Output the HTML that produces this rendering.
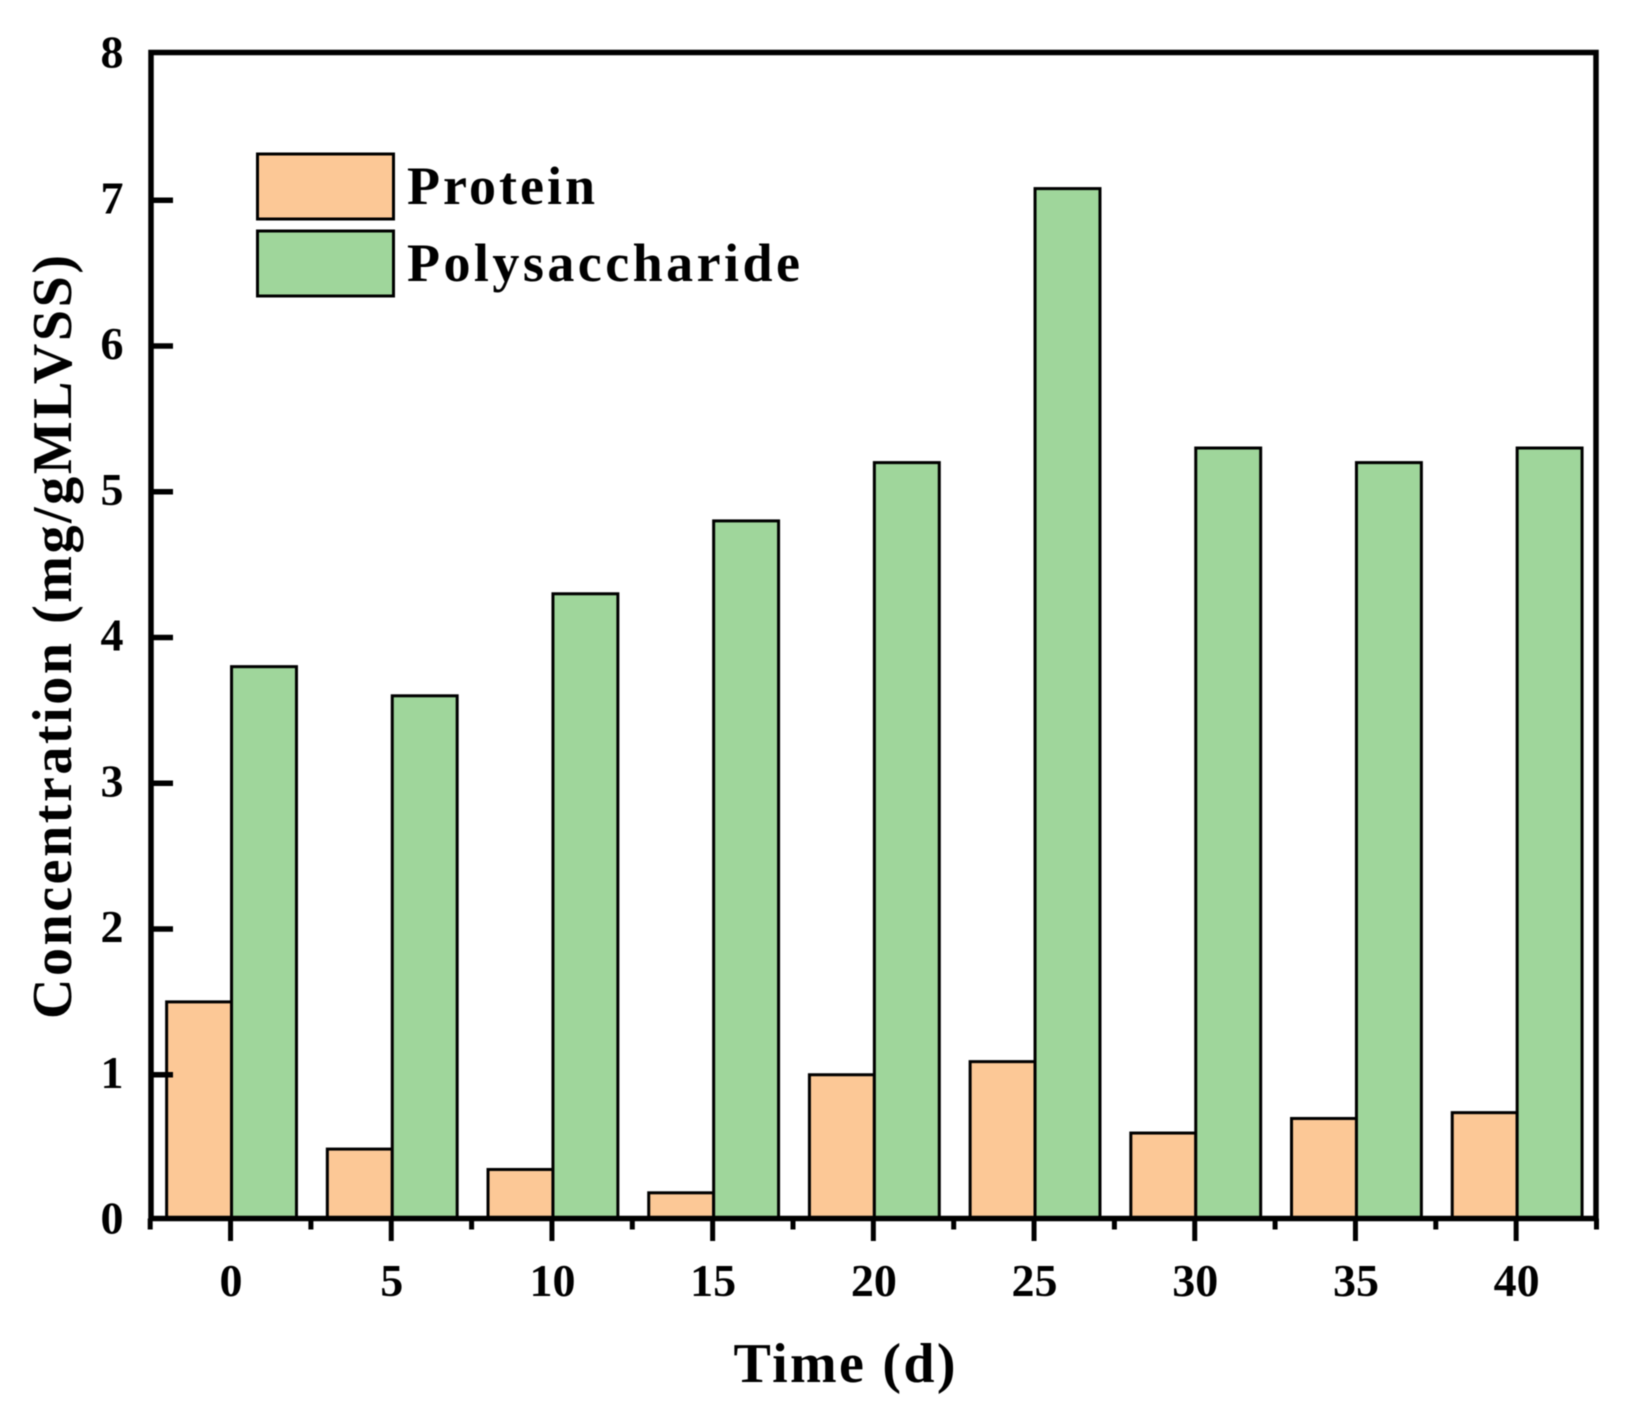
<!DOCTYPE html>
<html>
<head>
<meta charset="utf-8">
<style>
html,body{margin:0;padding:0;background:#fff;width:1630px;height:1405px;overflow:hidden}
svg{display:block;filter:blur(0.6px)}
text{font-family:"Liberation Serif",serif;font-weight:bold;fill:#000}
</style>
</head>
<body>
<svg id="chart" width="1630" height="1405" viewBox="0 0 1630 1405" xmlns="http://www.w3.org/2000/svg"></svg>
<script>
const categories = [0, 5, 10, 15, 20, 25, 30, 35, 40];
const proteinValues = [1.5, 0.49, 0.35, 0.19, 1.0, 1.09, 0.6, 0.7, 0.74];
const polysaccharideValues = [3.8, 3.6, 4.3, 4.8, 5.2, 7.08, 5.3, 5.2, 5.3];
const yTickLabels = [0, 1, 2, 3, 4, 5, 6, 7, 8];
const xMinorTicks = [-2.5, 2.5, 7.5, 12.5, 17.5, 22.5, 27.5, 32.5, 37.5, 42.5];

const svg = document.getElementById('chart');
const NS = 'http://www.w3.org/2000/svg';
const plot = {left: 151, right: 1599, top: 52.5, bottom: 1218.5};
const xDomain = [-2.5, 42.5];
const yDomain = [0, 8];
const xPos = v => 150.2 + (v - xDomain[0]) / (xDomain[1] - xDomain[0]) * 1446.3;
const yPos = v => plot.bottom + 2 - (v - yDomain[0]) / (yDomain[1] - yDomain[0]) * (plot.bottom - plot.top);
const labelY = v => plot.bottom - (v - yDomain[0]) / (yDomain[1] - yDomain[0]) * (plot.bottom - plot.top);
const barWidth = 2.02;

function make(tag, attrs, text) {
  const el = document.createElementNS(NS, tag);
  for (const k in attrs) el.setAttribute(k, attrs[k]);
  if (text !== undefined) el.textContent = text;
  svg.appendChild(el);
  return el;
}
function drawBar(cat, val, offsetSign, fill, name) {
  const x0 = offsetSign < 0 ? xPos(cat - barWidth) : xPos(cat);
  const w = xPos(barWidth) - xPos(0);
  const y = yPos(val);
  const el = make('rect', {x: x0 + 1, y: y, width: w, height: plot.bottom - y, fill: fill, stroke: '#000', 'stroke-width': 3});
  
  
}
categories.forEach((c, i) => {
  drawBar(c, proteinValues[i], -1, '#FCC896', 'protein-bar-' + c);
  drawBar(c, polysaccharideValues[i], 1, '#9FD69B', 'polysaccharide-bar-' + c);
});

// frame
const frame = make('rect', {x: plot.left, y: plot.top, width: plot.right - plot.left - 3, height: plot.bottom - plot.top, fill: 'none', stroke: '#000', 'stroke-width': 5.5});



// y ticks + labels
yTickLabels.forEach(v => {
  const y = yPos(v);
  if (v > 0 && v < 8) {
    const t = make('line', {x1: plot.left, x2: 173, y1: y, y2: y, stroke: '#000', 'stroke-width': 5.5});
    
    
  }
  const lab = make('text', {x: 112, y: labelY(v) + 15, 'text-anchor': 'middle', 'font-size': 46}, String(v));
  
  
});

// x ticks + labels
categories.forEach(c => {
  const x = xPos(c);
  const t = make('line', {x1: x, x2: x, y1: plot.bottom, y2: 1241, stroke: '#000', 'stroke-width': 5});
  
  
  const lab = make('text', {x: x + 0.5, y: 1296, 'text-anchor': 'middle', 'font-size': 46}, String(c));
  
  
});
xMinorTicks.forEach(c => {
  const x = xPos(c);
  const t = make('line', {x1: x, x2: x, y1: plot.bottom, y2: 1229.5, stroke: '#000', 'stroke-width': 5});
  
  
});

// axis titles
const xTitle = make('text', {x: 733.5, y: 1382, 'font-size': 56, textLength: 222, lengthAdjust: 'spacing'}, 'Time (d)');


const yTitle = make('text', {x: 0, y: 0, 'font-size': 56, transform: 'translate(71 1019) rotate(-90)', textLength: 764, lengthAdjust: 'spacing'}, 'Concentration (mg/gMLVSS)');



// legend
const legendEntries = ['Protein', 'Polysaccharide'];
const legendFills = ['#FCC896', '#9FD69B'];
const legendTops = [154, 231];
const legendWidths = [188, 393];
legendEntries.forEach((label, i) => {
  const s = make('rect', {x: 257.5, y: legendTops[i], width: 136, height: 65, fill: legendFills[i], stroke: '#000', 'stroke-width': 3});
  
  
  const t = make('text', {x: 407, y: legendTops[i] + 50, 'font-size': 54, textLength: legendWidths[i], lengthAdjust: 'spacing'}, label);
  
  
});
</script>
</body>
</html>
